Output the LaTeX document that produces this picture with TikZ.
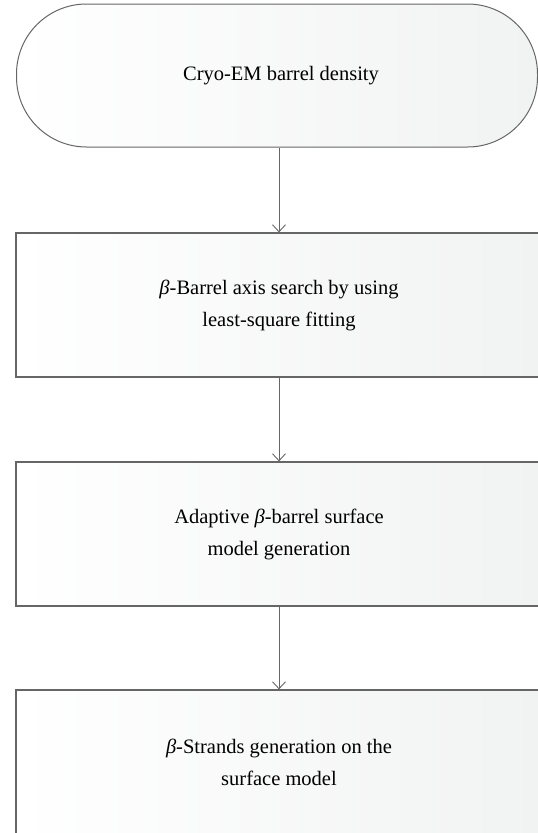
\documentclass[tikz,border=0pt]{standalone}
\usepackage{fontspec}
\setmainfont{Liberation Serif}
\usepackage{tikz}
\usetikzlibrary{arrows.meta,positioning}

\definecolor{edgegray}{HTML}{666666}
\definecolor{boxgray}{HTML}{F1F2F2}

\begin{document}
\begin{tikzpicture}[x=1pt, y=-1pt, >={Straight Barb[length=7pt,width=13pt]},
    stepbox/.style={draw=edgegray, line width=1.2pt, left color=white, right color=boxgray,
        minimum width=526pt, minimum height=144pt, align=center, inner sep=0pt,
        font=\fontsize{20.5}{32}\selectfont},
    startbox/.style={stepbox, rounded corners=70pt, minimum width=521pt, minimum height=143pt, line width=1pt},
    flow/.style={->, draw=edgegray, line width=0.9pt}]
    \useasboundingbox (0, 0) rectangle (538, 833);
    \clip (0, 0) rectangle (538, 833);

    % Start
    \node[startbox] (density) at (277, 75.5) {\hspace*{8pt}Cryo-EM barrel density};

    % Steps
    \node[stepbox] (axis) at (279, 305) {\textit{β}-Barrel axis search by using\\least-square fitting};
    \node[stepbox] (surface) at (279, 534) {Adaptive \textit{β}-barrel surface\\model generation};
    \node[stepbox] (strands) at (279, 762) {\textit{β}-Strands generation on the\\surface model};

    % Arrows
    \draw[flow] (axis.north |- density.south) -- (axis.north);
    \draw[flow] (axis) -- (surface);
    \draw[flow] (surface) -- (strands);
\end{tikzpicture}
\end{document}
